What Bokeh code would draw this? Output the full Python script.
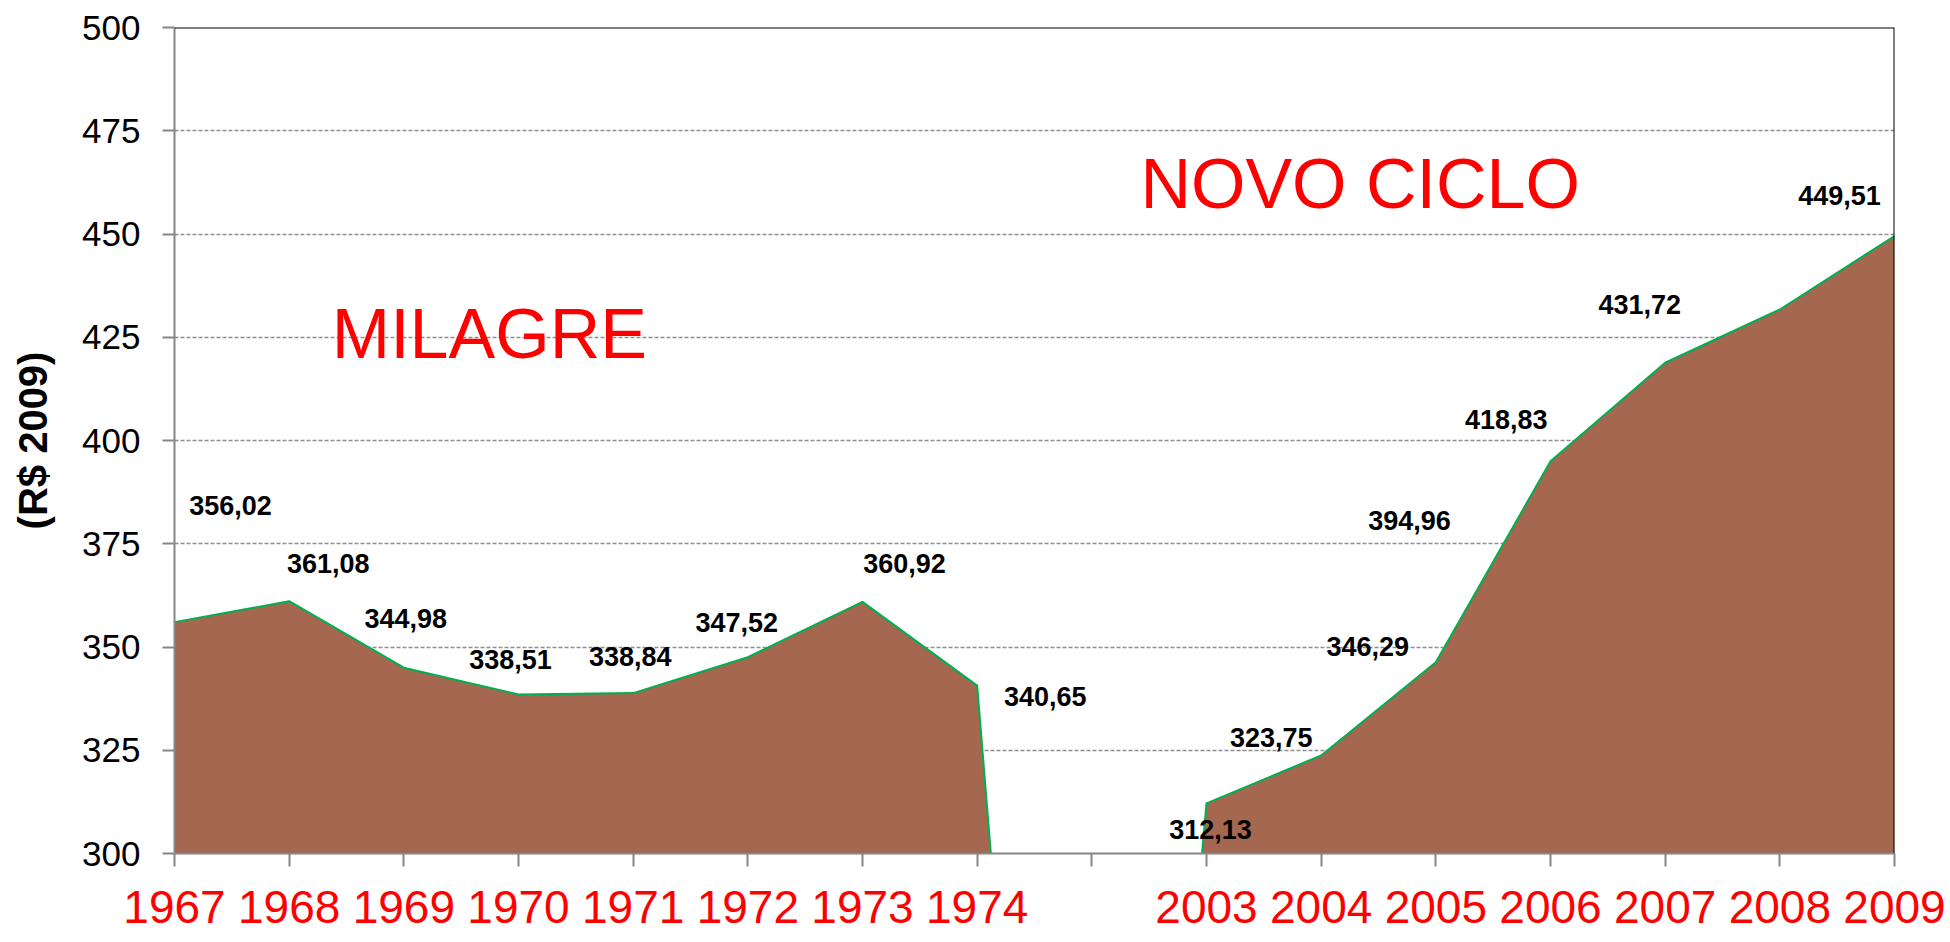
from bokeh.plotting import figure
from bokeh.models import (ColumnDataSource, Range1d, FixedTicker, Span, Label)
from bokeh.core.properties import value
from bokeh.embed import file_html
from bokeh.resources import INLINE

# ---- data ----
categories = ["1967", "1968", "1969", "1970", "1971", "1972", "1973", "1974", "",
              "2003", "2004", "2005", "2006", "2007", "2008", "2009"]
values = [356.02, 361.08, 344.98, 338.51, 338.84, 347.52, 360.92, 340.65, 0.0,
          312.13, 323.75, 346.29, 394.96, 418.83, 431.72, 449.51]
y_ticks = [300, 325, 350, 375, 400, 425, 450, 475, 500]
# data-label screen offsets (pixels) relative to each point, as placed in the original
label_dx = [56, 39, 2, -8, -3, -11, 42, 68, None, 4, -50, -68, -141, -159, -140, -55]
label_dy = [-117, -38, -49, -35, -37, -35, -38, 11, None, 26, -18, -16, 59, 57, -5, -41]

FONT = "Liberation Sans"
idx = list(range(len(categories)))

p = figure(width=1946, height=942, output_backend="svg", toolbar_location=None,
           x_range=Range1d(0, len(categories) - 1), y_range=Range1d(300, 500),
           min_border_left=174, min_border_right=52, min_border_top=27,
           min_border_bottom=89)
p.outline_line_color = None
p.background_fill_color = "white"

# area + outline
p.varea(x=idx, y1=[0] * len(values), y2=values, fill_color="#A5674F")
p.line(x=idx, y=values, line_color="#00B050", line_width=2)

# grid
p.xgrid.visible = False
p.ygrid.ticker = FixedTicker(ticks=y_ticks[1:-1])
p.ygrid.grid_line_color = "#8F8F8F"
p.ygrid.grid_line_dash = "4 2"
p.ygrid.grid_line_width = 1.5

p.add_layout(Span(location=y_ticks[-1], dimension="width", line_color="black", line_width=2))
p.add_layout(Span(location=len(categories) - 1, dimension="height", line_color="black", line_width=2))

# x axis
xa = p.xaxis[0]
xa.ticker = FixedTicker(ticks=idx)
xa.major_label_overrides = {i: c for i, c in enumerate(categories)}
xa.axis_line_color = "#868686"
xa.axis_line_width = 2
xa.major_tick_line_color = "#868686"
xa.major_tick_line_width = 2
xa.major_tick_in = 0
xa.major_tick_out = 13
xa.minor_tick_line_color = None
xa.major_label_text_font = FONT
xa.major_label_text_font_size = "46px"
xa.major_label_text_color = "#FF0000"
xa.major_label_standoff = 24

# y axis
ya = p.yaxis[0]
ya.ticker = FixedTicker(ticks=y_ticks)
ya.axis_line_color = "#868686"
ya.axis_line_width = 2
ya.major_tick_line_color = "#868686"
ya.major_tick_line_width = 2
ya.major_tick_in = 0
ya.major_tick_out = 12
ya.minor_tick_line_color = None
ya.major_label_text_font = FONT
ya.major_label_text_font_size = "35px"
ya.major_label_text_color = "black"
ya.major_label_standoff = 22
ya.axis_label = "(R$ 2009)"
ya.axis_label_text_font = FONT
ya.axis_label_text_font_style = "bold"
ya.axis_label_text_font_size = "40px"
ya.axis_label_text_color = "black"
ya.axis_label_standoff = 24

# data labels
lx, ly, lt, ldx, ldy = [], [], [], [], []
for i, v in enumerate(values):
    if label_dx[i] is None:
        continue
    lx.append(i)
    ly.append(v)
    lt.append(f"{v:.2f}".replace(".", ","))
    ldx.append(label_dx[i])
    ldy.append(label_dy[i])
src = ColumnDataSource(dict(x=lx, y=ly, t=lt, dx=ldx, dy=ldy))
p.text(x="x", y="y", text="t", source=src, x_offset="dx", y_offset="dy",
       text_align="center", text_baseline="middle", text_font=value(FONT),
       text_font_style="bold", text_font_size="27px", text_color="black")

# period annotations
p.add_layout(Label(x=2.746, y=425.7, text="MILAGRE", text_align="center",
                   text_baseline="alphabetic", text_font=FONT, text_font_size="70px",
                   text_color="#FF0000"))
p.add_layout(Label(x=10.34, y=462.0, text="NOVO CICLO", text_align="center",
                   text_baseline="alphabetic", text_font=FONT, text_font_size="70px",
                   text_color="#FF0000"))

open("out.html", "w").write(file_html(p, INLINE))
